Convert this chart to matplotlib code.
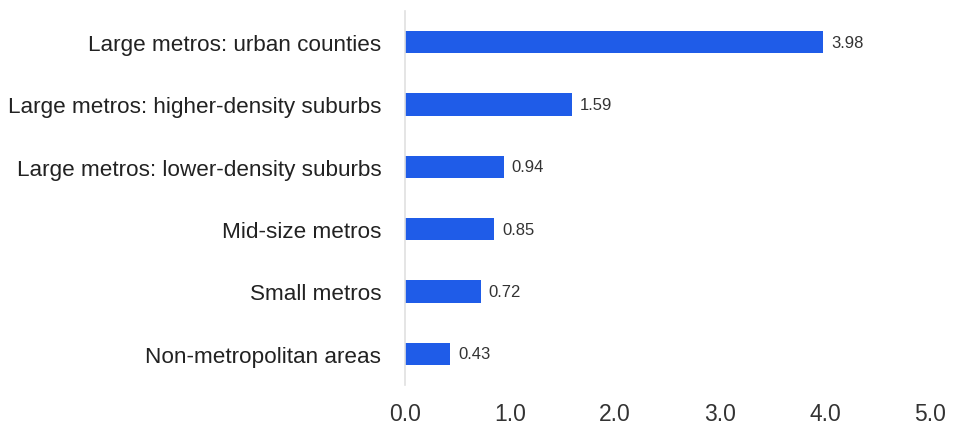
import matplotlib.pyplot as plt

plt.rcParams['font.family'] = ['Liberation Sans', 'DejaVu Sans']

categories = ['Large metros: urban counties',
              'Large metros: higher-density suburbs',
              'Large metros: lower-density suburbs',
              'Mid-size metros',
              'Small metros',
              'Non-metropolitan areas']
values = [3.98, 1.59, 0.94, 0.85, 0.72, 0.43]
xticks = [0, 1, 2, 3, 4, 5]

fig = plt.figure(figsize=(9.54, 4.27), dpi=100)
ax = fig.add_axes([0.4245, 0.096, 0.5505, 0.876])

ypos = list(range(len(categories)))[::-1]
ax.barh(ypos, values, height=0.36, color='#1f5ce8')

for y, v in zip(ypos, values):
    ax.text(v + 0.075, y, '%.2f' % v, va='center', ha='left', fontsize=12, color='#333333')

ax.set_xlim(0, 5)
ax.set_ylim(-0.5, 5.5)
ax.set_yticks(ypos)
ax.set_yticklabels(categories, fontsize=16.2, color='#222222')
ax.set_xticks(xticks)
ax.set_xticklabels(['%.1f' % t for t in xticks], fontsize=16.5, color='#333333')
ax.tick_params(axis='both', length=0)
ax.tick_params(axis='y', pad=17)
ax.tick_params(axis='x', pad=12)

for s in ['top', 'right', 'bottom']:
    ax.spines[s].set_visible(False)
ax.spines['left'].set_color('#e0e0e0')
ax.spines['left'].set_linewidth(1.2)

fig.savefig('out.png', dpi=100)
